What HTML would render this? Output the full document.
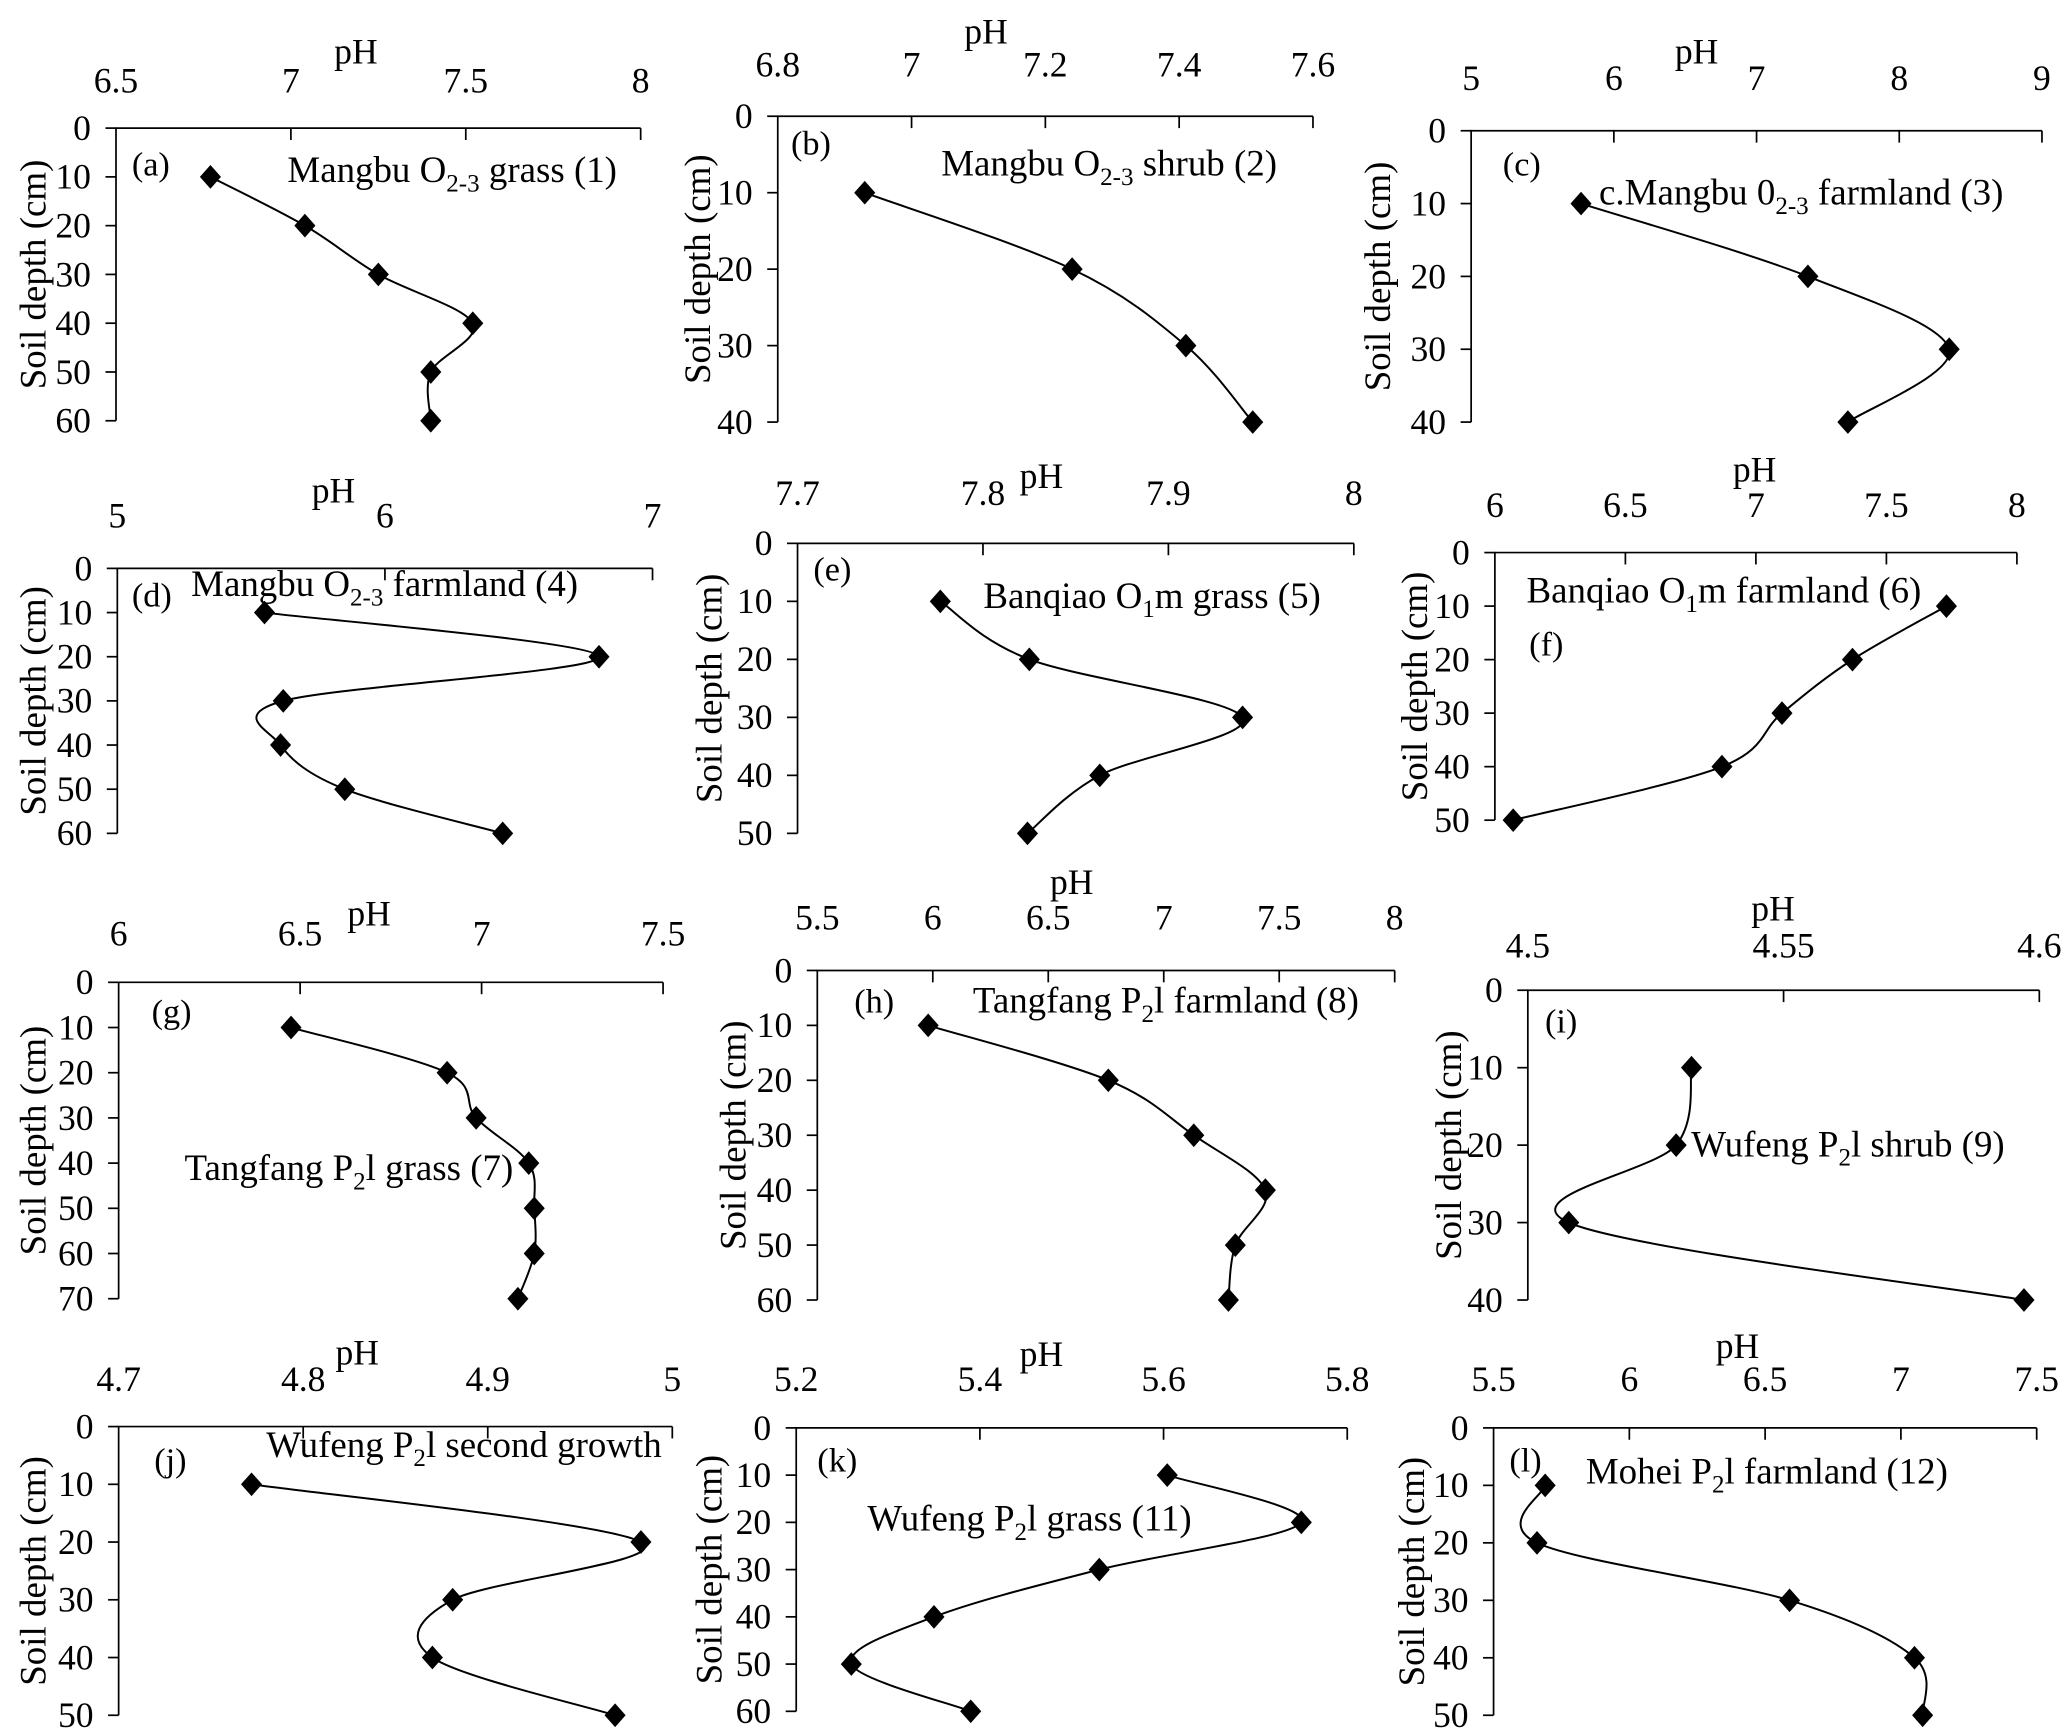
<!DOCTYPE html>
<html><head><meta charset="utf-8"><style>
html,body{margin:0;padding:0;background:#fff;}
svg{display:block;font-family:"Liberation Serif","Times New Roman",serif;}
svg text{font-family:"Liberation Serif","Times New Roman",serif;fill:#000;}
</style></head><body>
<svg id="fig" width="2067" height="1730" viewBox="0 0 1568 1312" font-family="Liberation Serif, serif" xmlns="http://www.w3.org/2000/svg"></svg>
<script>
// ---- data ----
const depthsA=[10,20,30,40,50,60], phA=[6.77,7.04,7.25,7.52,7.40,7.40];
const depthsB=[10,20,30,40], phB=[6.93,7.24,7.41,7.51];
const depthsC=[10,20,30,40], phC=[5.77,7.36,8.35,7.64];
const depthsD=[10,20,30,40,50,60], phD=[5.55,6.80,5.62,5.61,5.85,6.44];
const depthsE=[10,20,30,40,50], phE=[7.777,7.825,7.940,7.863,7.824];
const depthsF=[10,20,30,40,50], phF=[7.73,7.37,7.10,6.87,6.07];
const depthsG=[10,20,30,40,50,60,70], phG=[6.475,6.905,6.985,7.13,7.145,7.145,7.10];
const depthsH=[10,20,30,40,50,60], phH=[5.98,6.76,7.13,7.44,7.31,7.28];
const depthsI=[10,20,30,40], phI=[4.532,4.529,4.508,4.597];
const depthsJ=[10,20,30,40,50], phJ=[4.772,4.983,4.881,4.870,4.969];
const depthsK=[10,20,30,40,50,60], phK=[5.604,5.75,5.53,5.35,5.26,5.39];
const depthsL=[10,20,30,40,50], phL=[5.69,5.66,6.59,7.05,7.08];
const ticksA=[6.5,7,7.5,8], ticksB=[6.8,7,7.2,7.4,7.6], ticksC=[5,6,7,8,9];
const ticksD=[5,6,7], ticksE=[7.7,7.8,7.9,8], ticksF=[6,6.5,7,7.5,8];
const ticksG=[6,6.5,7,7.5], ticksH=[5.5,6,6.5,7,7.5,8], ticksI=[4.5,4.55,4.6];
const ticksJ=[4.7,4.8,4.9,5], ticksK=[5.2,5.4,5.6,5.8], ticksL=[5.5,6,6.5,7,7.5];

const panels=[
 {id:'a',d:depthsA,p:phA,t:ticksA,px0:88,px1:486,y0:97,y1:319,ymax:60,tly:70,ph:[270,48],ylx:28,letter:[100,133],title:['Mangbu O','2-3',' grass (1)'],tt:[218,138]},
 {id:'b',d:depthsB,p:phB,t:ticksB,px0:590,px1:996,y0:88,y1:320,ymax:40,tly:58,ph:[748,33],ylx:532,letter:[600,117],title:['Mangbu O','2-3',' shrub (2)'],tt:[714,133]},
 {id:'c',d:depthsC,p:phC,t:ticksC,px0:1116,px1:1549,y0:99,y1:320,ymax:40,tly:68,ph:[1287,48],ylx:1048,letter:[1140,133],title:['c.Mangbu 0','2-3',' farmland (3)'],tt:[1213,155]},
 {id:'d',d:depthsD,p:phD,t:ticksD,px0:89,px1:495,y0:431,y1:632,ymax:60,tly:400,ph:[253,381],ylx:28,letter:[100,460],title:['Mangbu O','2-3',' farmland (4)'],tt:[145,452]},
 {id:'e',d:depthsE,p:phE,t:ticksE,px0:605,px1:1027,y0:412,y1:632,ymax:50,tly:383,ph:[790,370],ylx:541,letter:[617,440],title:['Banqiao O','1',' m grass (5)'],tt:[746,461]},
 {id:'f',d:depthsF,p:phF,t:ticksF,px0:1134,px1:1530,y0:419,y1:622,ymax:50,tly:392,ph:[1331,365],ylx:1076,letter:[1160,497],title:['Banqiao O','1',' m farmland (6)'],tt:[1158,457]},
 {id:'g',d:depthsG,p:phG,t:ticksG,px0:90,px1:503,y0:745,y1:985,ymax:70,tly:717,ph:[280,702],ylx:28,letter:[115,776],title:['Tangfang P','2','l grass (7)'],tt:[140,895]},
 {id:'h',d:depthsH,p:phH,t:ticksH,px0:620,px1:1058,y0:736,y1:986,ymax:60,tly:705,ph:[813,678],ylx:559,letter:[648,768],title:['Tangfang P','2','l farmland (8)'],tt:[738,768]},
 {id:'i',d:depthsI,p:phI,t:ticksI,px0:1159,px1:1547,y0:751,y1:986,ymax:40,tly:726,ph:[1345,698],ylx:1102,letter:[1172,783],title:['Wufeng P','2','l shrub (9)'],tt:[1283,877]},
 {id:'j',d:depthsJ,p:phJ,t:ticksJ,px0:90,px1:510,y0:1082,y1:1301,ymax:50,tly:1055,ph:[271,1035],ylx:28,letter:[117,1116],title:['Wufeng P','2','l second growth'],tt:[202,1105]},
 {id:'k',d:depthsK,p:phK,t:ticksK,px0:604,px1:1022,y0:1083,y1:1298,ymax:60,tly:1055,ph:[790,1036],ylx:541,letter:[620,1116],title:['Wufeng P','2','l grass (11)'],tt:[658,1161]},
 {id:'l',d:depthsL,p:phL,t:ticksL,px0:1133,px1:1545,y0:1083,y1:1301,ymax:50,tly:1055,ph:[1318,1030],ylx:1074,letter:[1145,1116],title:['Mohei P','2','l farmland (12)'],tt:[1203,1125]},
];
const NS='http://www.w3.org/2000/svg';
const svg=document.getElementById('fig');
const FF='Liberation Serif, Times New Roman, serif';
function mk(tag,attrs,parent){const e=document.createElementNS(NS,tag);for(const k in attrs)e.setAttribute(k,attrs[k]);if(tag==='text')e.setAttribute('font-family',FF);(parent||svg).appendChild(e);return e;}

panels.forEach(P=>{
 const g=mk('g',{});
 
 
 const xmin=P.t[0], xmax=P.t[P.t.length-1];
 const xs=v=>P.px0+(v-xmin)/(xmax-xmin)*(P.px1-P.px0);
 const ys=v=>P.y0+v/P.ymax*(P.y1-P.y0);
 const ax=mk('path',{d:`M${P.px0},${P.y1}V${P.y0}H${P.px1}`,fill:'none',stroke:'#000','stroke-width':1.3},g);
 
 
 P.t.forEach((v,i)=>{
  if(i>0) mk('line',{x1:xs(v),x2:xs(v),y1:P.y0,y2:P.y0+9,stroke:'#000','stroke-width':1.3},g);
  const t=mk('text',{x:xs(v),y:P.tly,'font-size':27,'text-anchor':'middle'},g);
  t.textContent=String(v);
  
  
 });
 for(let v=0;v<=P.ymax;v+=10){
  mk('line',{x1:P.px0-8,x2:P.px0,y1:ys(v),y2:ys(v),stroke:'#000','stroke-width':1.3},g);
  const t=mk('text',{x:P.px0-19,y:ys(v)+9,'font-size':27,'text-anchor':'end'},g);
  t.textContent=String(v);
  
  
 }
 const ph=mk('text',{x:P.ph[0],y:P.ph[1],'font-size':27,'text-anchor':'middle'},g);
 ph.textContent='pH';
 
 
 const ymid=(P.y0+P.y1)/2;
 const yl=mk('text',{x:P.ylx,y:ymid,'font-size':28,'text-anchor':'middle',transform:`rotate(-90 ${P.ylx} ${ymid})`,'dominant-baseline':'middle'},g);
 yl.textContent='Soil depth (cm)';
 
 
 const lt=mk('text',{x:P.letter[0],y:P.letter[1],'font-size':26},g);
 lt.textContent='('+P.id+')';
 
 
 const tt=mk('text',{x:P.tt[0],y:P.tt[1],'font-size':28},g);
 
 
 const s1=mk('tspan',{},tt); s1.textContent=P.title[0];
 const s2=mk('tspan',{'font-size':19,dy:7},tt); s2.textContent=P.title[1];
 const s3=mk('tspan',{dy:-7},tt); s3.textContent=P.title[2].replace(' m','m');
 const pts=P.d.map((d,i)=>[xs(P.p[i]),ys(d)]);
 let dstr=`M${pts[0][0]},${pts[0][1]}`;
 for(let i=0;i<pts.length-1;i++){
  const p0=pts[i-1]||pts[i],p1=pts[i],p2=pts[i+1],p3=pts[i+2]||p2;
  const c1=[p1[0]+(p2[0]-p0[0])/6,p1[1]+(p2[1]-p0[1])/6];
  const c2=[p2[0]-(p3[0]-p1[0])/6,p2[1]-(p3[1]-p1[1])/6];
  dstr+=`C${c1[0]},${c1[1]} ${c2[0]},${c2[1]} ${p2[0]},${p2[1]}`;
 }
 const line=mk('path',{d:dstr,fill:'none',stroke:'#000','stroke-width':1.5},g);
 
 
 pts.forEach(p=>{
  const m=mk('path',{d:`M${p[0]},${p[1]-9}L${p[0]+8},${p[1]}L${p[0]},${p[1]+9}L${p[0]-8},${p[1]}Z`,fill:'#000'},g);
  
  
 });
});
</script>
</body></html>
